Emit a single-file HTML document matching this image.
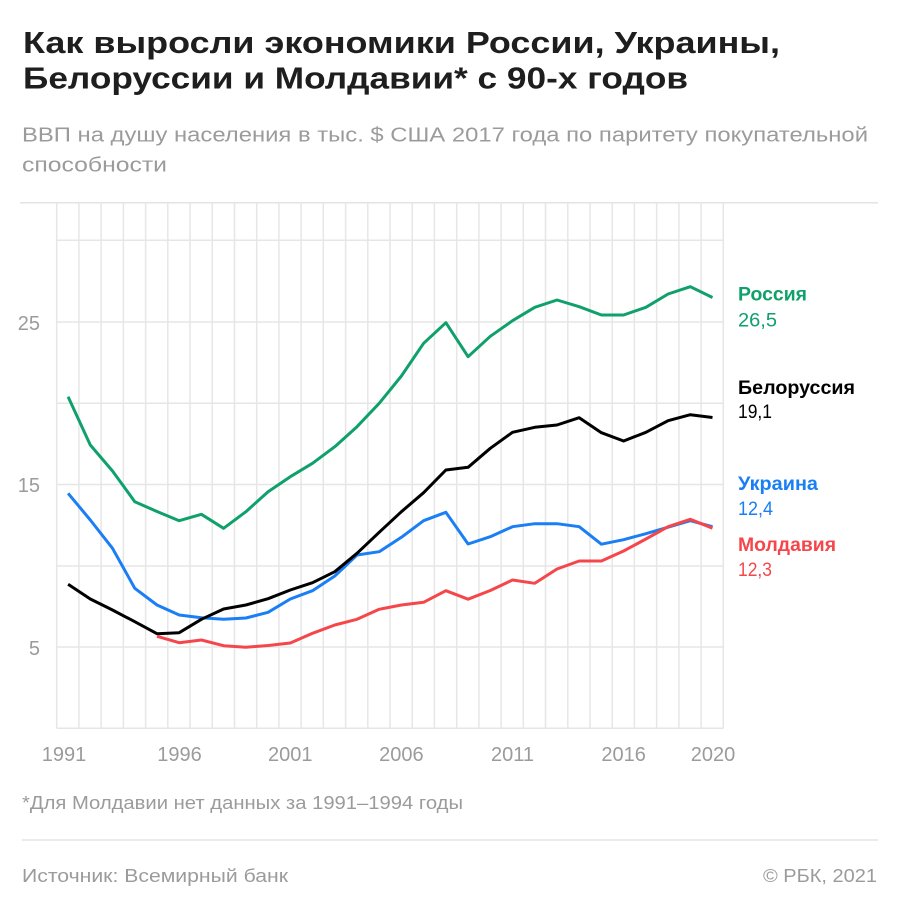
<!DOCTYPE html>
<html><head><meta charset="utf-8"><style>
html,body{margin:0;padding:0;background:#fff;}
svg{display:block;}
text{font-family:"Liberation Sans","Noto Sans CJK SC",sans-serif;}
</style></head><body>
<svg width="900" height="913" viewBox="0 0 900 913" xmlns="http://www.w3.org/2000/svg">
<rect width="900" height="913" fill="#fff"/>
<!-- title -->
<text x="23" y="53" font-size="31" font-weight="700" fill="#1e1e1e" textLength="757" lengthAdjust="spacingAndGlyphs">Как выросли экономики России, Украины,</text>
<text x="23" y="88.5" font-size="31" font-weight="700" fill="#1e1e1e" textLength="665" lengthAdjust="spacingAndGlyphs">Белоруссии и Молдавии* с 90-х годов</text>
<text x="22" y="141.7" font-size="20" fill="#9b9b9b" textLength="846" lengthAdjust="spacingAndGlyphs">ВВП на душу населения в тыс. $ США 2017 года по паритету покупательной</text>
<text x="22" y="171.5" font-size="20" fill="#9b9b9b" textLength="145" lengthAdjust="spacingAndGlyphs">способности</text>
<line x1="20" y1="202.7" x2="878" y2="202.7" stroke="#e3e3e3" stroke-width="1.5"/>
<!-- grid -->
<g stroke="#e6e6e6" stroke-width="1.5">
<line x1="56.7" y1="202.7" x2="56.7" y2="728.3"/><line x1="78.9" y1="202.7" x2="78.9" y2="728.3"/><line x1="101.1" y1="202.7" x2="101.1" y2="728.3"/><line x1="123.4" y1="202.7" x2="123.4" y2="728.3"/><line x1="145.6" y1="202.7" x2="145.6" y2="728.3"/><line x1="167.8" y1="202.7" x2="167.8" y2="728.3"/><line x1="190.0" y1="202.7" x2="190.0" y2="728.3"/><line x1="212.2" y1="202.7" x2="212.2" y2="728.3"/><line x1="234.5" y1="202.7" x2="234.5" y2="728.3"/><line x1="256.7" y1="202.7" x2="256.7" y2="728.3"/><line x1="278.9" y1="202.7" x2="278.9" y2="728.3"/><line x1="301.1" y1="202.7" x2="301.1" y2="728.3"/><line x1="323.3" y1="202.7" x2="323.3" y2="728.3"/><line x1="345.6" y1="202.7" x2="345.6" y2="728.3"/><line x1="367.8" y1="202.7" x2="367.8" y2="728.3"/><line x1="390.0" y1="202.7" x2="390.0" y2="728.3"/><line x1="412.2" y1="202.7" x2="412.2" y2="728.3"/><line x1="434.4" y1="202.7" x2="434.4" y2="728.3"/><line x1="456.7" y1="202.7" x2="456.7" y2="728.3"/><line x1="478.9" y1="202.7" x2="478.9" y2="728.3"/><line x1="501.1" y1="202.7" x2="501.1" y2="728.3"/><line x1="523.3" y1="202.7" x2="523.3" y2="728.3"/><line x1="545.5" y1="202.7" x2="545.5" y2="728.3"/><line x1="567.8" y1="202.7" x2="567.8" y2="728.3"/><line x1="590.0" y1="202.7" x2="590.0" y2="728.3"/><line x1="612.2" y1="202.7" x2="612.2" y2="728.3"/><line x1="634.4" y1="202.7" x2="634.4" y2="728.3"/><line x1="656.6" y1="202.7" x2="656.6" y2="728.3"/><line x1="678.9" y1="202.7" x2="678.9" y2="728.3"/><line x1="701.1" y1="202.7" x2="701.1" y2="728.3"/><line x1="723.3" y1="202.7" x2="723.3" y2="728.3"/>
<line x1="56.7" y1="240.3" x2="723.3" y2="240.3"/><line x1="56.7" y1="322" x2="723.3" y2="322"/><line x1="56.7" y1="403.3" x2="723.3" y2="403.3"/><line x1="56.7" y1="484.5" x2="723.3" y2="484.5"/><line x1="56.7" y1="566" x2="723.3" y2="566"/><line x1="56.7" y1="647" x2="723.3" y2="647"/><line x1="56.7" y1="728.3" x2="723.3" y2="728.3"/>
</g>
<!-- y labels -->
<g font-size="20" fill="#9b9b9b" text-anchor="end">
<text x="40" y="330">25</text>
<text x="40" y="492">15</text>
<text x="40" y="655">5</text>
</g>
<!-- x labels -->
<g font-size="20" fill="#9b9b9b" text-anchor="middle">
<text x="64" y="761">1991</text>
<text x="179.5" y="761">1996</text>
<text x="290.3" y="761">2001</text>
<text x="401.4" y="761">2006</text>
<text x="512.5" y="761">2011</text>
<text x="623.6" y="761">2016</text>
<text x="713" y="761">2020</text>
</g>
<!-- series -->
<g fill="none" stroke-width="3" stroke-linejoin="round" stroke-linecap="butt">
<polyline stroke="#0fa06c" points="68.1,396.7 90.3,445 112.5,471 134.8,501.7 157,511.5 179.2,520.7 201.4,514.3 223.6,528.3 245.9,511.7 268.1,491.7 290.3,476.7 312.5,463.3 334.8,446.7 357,426.7 379.2,403.3 401.4,376 423.6,343.3 445.9,322.7 468.1,356.7 490.3,336.3 512.5,320.7 534.8,307.3 557,300 579.2,306.7 601.4,315 623.6,315 645.9,307.3 668.1,294 690.3,286.7 712.5,297.5"/>
<polyline stroke="#1a7ef5" points="68.1,493.3 90.3,520 112.5,548.3 134.8,588.3 157,605 179.2,615 201.4,617.7 223.6,619.3 245.9,618 268.1,612.3 290.3,599 312.5,590.7 334.8,576 357,555 379.2,551.7 401.4,537.3 423.6,520.7 445.9,512.3 468.1,544 490.3,536.7 512.5,526.7 534.8,523.7 557,523.7 579.2,526.7 601.4,544.2 623.6,539.7 645.9,533.7 668.1,527.2 690.3,520.7 712.5,526.7"/>
<polyline stroke="#000" points="68.1,584.3 90.3,599 112.5,610 134.8,621.7 157,633.7 179.2,632.7 201.4,619.3 223.6,609 245.9,605 268.1,598.7 290.3,590 312.5,582.7 334.8,571.7 357,553.3 379.2,532.3 401.4,511.7 423.6,492.7 445.9,470 468.1,467.3 490.3,448.3 512.5,432.3 534.8,427.3 557,425 579.2,417.7 601.4,432.7 623.6,441 645.9,432.3 668.1,420.7 690.3,414.7 712.5,417.5"/>
<polyline stroke="#f5474b" points="157,636.3 179.2,642.7 201.4,640 223.6,645.7 245.9,647.2 268.1,645.5 290.3,643 312.5,633.3 334.8,625 357,619.3 379.2,609.3 401.4,605 423.6,602.3 445.9,590.7 468.1,599.2 490.3,590.5 512.5,580 534.8,583.3 557,569 579.2,561 601.4,561 623.6,551 645.9,539 668.1,526.7 690.3,519.3 712.5,528.2"/>
</g>
<!-- legend -->
<g font-size="19">
<text x="738" y="300.7" font-weight="700" fill="#0fa06c" textLength="69" lengthAdjust="spacingAndGlyphs">Россия</text>
<text x="738" y="326.7" fill="#0fa06c" textLength="39" lengthAdjust="spacingAndGlyphs">26,5</text>
<text x="738" y="394" font-weight="700" fill="#000" textLength="117" lengthAdjust="spacingAndGlyphs">Белоруссия</text>
<text x="738" y="418" fill="#000" textLength="34" lengthAdjust="spacingAndGlyphs">19,1</text>
<text x="738" y="490" font-weight="700" fill="#1a7ef5" textLength="80" lengthAdjust="spacingAndGlyphs">Украина</text>
<text x="738" y="515" fill="#1a7ef5" textLength="35" lengthAdjust="spacingAndGlyphs">12,4</text>
<text x="738" y="551" font-weight="700" fill="#f5474b" textLength="98" lengthAdjust="spacingAndGlyphs">Молдавия</text>
<text x="738" y="576" fill="#f5474b" textLength="34" lengthAdjust="spacingAndGlyphs">12,3</text>
</g>
<!-- footer -->
<text x="22" y="809" font-size="18" fill="#9b9b9b" textLength="441" lengthAdjust="spacingAndGlyphs">*Для Молдавии нет данных за 1991–1994 годы</text>
<line x1="22" y1="840" x2="878" y2="840" stroke="#e3e3e3" stroke-width="1.5"/>
<text x="22" y="882" font-size="18" fill="#9b9b9b" textLength="266" lengthAdjust="spacingAndGlyphs">Источник: Всемирный банк</text>
<text x="763" y="882" font-size="18" fill="#9b9b9b" textLength="114" lengthAdjust="spacingAndGlyphs">© РБК, 2021</text>
</svg>
</body></html>
